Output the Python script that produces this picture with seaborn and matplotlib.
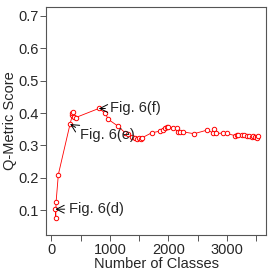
"""
Q-metric score vs number of classes
"""

import numpy as np
import pandas as pd
import matplotlib
matplotlib.use("Agg")
import matplotlib.pyplot as plt
import seaborn as sns

# values
num_classes = [70, 77, 82, 121, 321, 360, 377, 360, 394, 418,
               811, 918, 975, 1135, 1259, 1316, 1374, 1430, 1459, 1504,
               1533, 1555, 1715, 1857, 1913, 1942, 1971, 1988, 2084, 2142,
               2159, 2198, 2244, 2437, 2654, 2766, 2778, 2812, 2937, 2995,
               3136, 3165, 3193, 3251, 3290, 3346, 3380, 3421, 3449, 3478,
               3507, 3518, 3535]
q_score = [0.103, 0.076, 0.124, 0.210, 0.366, 0.399, 0.402, 0.393, 0.388, 0.386,
           0.414, 0.400, 0.380, 0.360, 0.339, 0.335, 0.326, 0.322, 0.320, 0.323,
           0.319, 0.324, 0.339, 0.344, 0.349, 0.354, 0.356, 0.357, 0.354, 0.353,
           0.342, 0.341, 0.342, 0.336, 0.347, 0.339, 0.351, 0.337, 0.338, 0.337,
           0.330, 0.331, 0.331, 0.332, 0.331, 0.330, 0.328, 0.326, 0.329, 0.326,
           0.325, 0.322, 0.328]

# annotated points: label, target (x, y), text anchor (x, y)
labels = ["Fig. 6(d)", "Fig. 6(e)", "Fig. 6(f)"]
targets = [(70, 0.103), (321, 0.366), (811, 0.414)]
text_pos = [(309, 0.103), (491, 0.332), (1003, 0.414)]
text_relpos = [(0.0, 0.5), (0.0, 0.85), (0.0, 0.5)]

x_ticks = [0, 1000, 2000, 3000]
x_minor = [500, 1500, 2500, 3500]
y_ticks = [0.1, 0.2, 0.3, 0.4, 0.5, 0.6, 0.7]

sns.set_theme(style="ticks")
plt.rcParams['font.family'] = ['Liberation Sans', 'DejaVu Sans']

df = pd.DataFrame({"classes": num_classes, "score": q_score})

fig = plt.figure(figsize=(2.74, 2.74), dpi=100)
ax = fig.add_axes([0.168, 0.142, 0.803, 0.832])

sns.lineplot(data=df, x="classes", y="score", ax=ax, sort=True, estimator=None,
             color="red", linewidth=0.6, marker="o", markersize=3.2,
             markerfacecolor="white", markeredgecolor="red", markeredgewidth=0.7)

for label, xy, xyt, rp in zip(labels, targets, text_pos, text_relpos):
    ax.annotate(label, xy=xy, xytext=xyt, fontsize=10.5, ha="left", va="center",
                arrowprops=dict(arrowstyle="->", color="black", lw=0.7,
                                shrinkA=1, shrinkB=0, relpos=rp,
                                mutation_scale=14))

ax.set_xlim(-89, 3665)
ax.set_ylim(0.023, 0.727)
ax.set_xticks(x_ticks)
ax.set_xticks(x_minor, minor=True)
ax.set_yticks(y_ticks)
ax.set_yticklabels([f"{v:.1f}" for v in y_ticks])

for side in ["top", "right", "bottom", "left"]:
    ax.spines[side].set_visible(True)
    ax.spines[side].set_color("#555555")
    ax.spines[side].set_linewidth(0.8)

ax.tick_params(which="both", direction="out", length=4, width=0.7,
               color="#555555", labelsize=10.5, pad=1.5)
ax.tick_params(which="minor", labelbottom=False)

ax.set_xlabel("Number of Classes", fontsize=10.5, labelpad=0)
ax.set_ylabel("Q-Metric Score", fontsize=10.5, labelpad=1)

plt.savefig("out.png", dpi=100)
plt.close()
